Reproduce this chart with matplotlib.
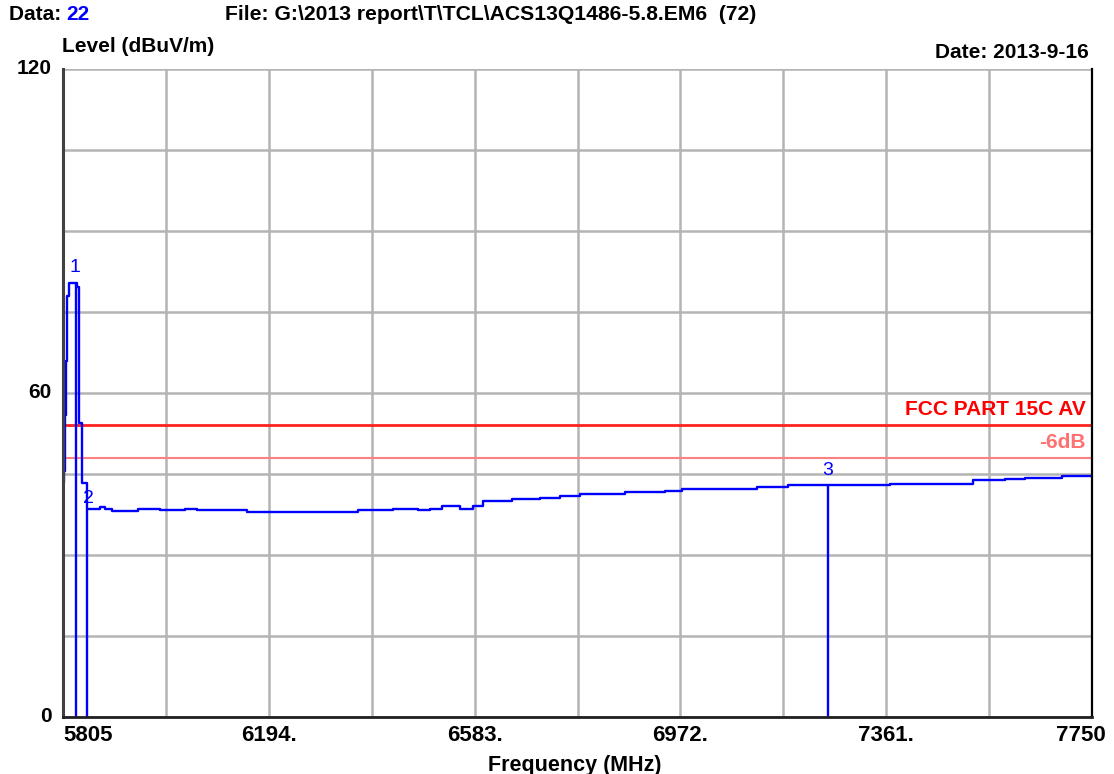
#!/usr/bin/env python3

import numpy as np
import matplotlib
matplotlib.use('Agg')
import matplotlib.pyplot as plt
from matplotlib.transforms import blended_transform_factory

plt.rcParams['font.family'] = ['Liberation Sans', 'DejaVu Sans']
plt.rcParams['font.weight'] = 'bold'

# sweep trace (MHz, dBuV/m), stepwise
trace_freq = [5805, 5807, 5809, 5811, 5813, 5816, 5822, 5831, 5835, 5836, 5841, 5847,
              5850, 5875, 5884, 5898, 5947, 5970, 5988, 6036, 6058, 6153, 6363,
              6429, 6476, 6499, 6521, 6555, 6580, 6599, 6654, 6707, 6744, 6782,
              6867, 6943, 6975, 7117, 7175, 7368, 7525, 7585, 7623, 7693, 7750]
trace_level = [43.5, 45.5, 56.0, 66.0, 78.0, 80.4, 80.4, 79.6, 54.4, 54.4, 43.3, 43.3,
               38.5, 38.9, 38.6, 38.1, 38.5, 38.6, 38.3, 38.6, 38.3, 37.9, 38.3,
               38.6, 38.3, 38.6, 39.1, 38.6, 39.1, 40.0, 40.4, 40.5, 40.9, 41.3,
               41.6, 41.9, 42.3, 42.6, 42.9, 43.2, 43.8, 44.1, 44.3, 44.6, 44.6]

# markers
marker_id = ['1', '2', '3']
marker_freq = [5830, 5850, 7251]
marker_level = [80.4, 38.5, 42.8]

# limit lines
limit_level = 54
margin_level = 48

x_min, x_max = 5805, 7750
y_min, y_max = 0, 120
x_labels = ['5805', '6194.', '6583.', '6972.', '7361.', '7750']
y_labels = [0, 60, 120]

fig = plt.figure(figsize=(11.14, 7.74), dpi=100)
ax = fig.add_axes([63 / 1114, 1 - 717 / 774, (1092 - 63) / 1114, (717 - 69) / 774])

ax.set_xlim(x_min, x_max)
ax.set_ylim(y_min, y_max)
ax.set_xticks(np.linspace(x_min, x_max, 11))
ax.set_yticks(np.arange(0, 121, 15))
ax.set_xticklabels([])
ax.set_yticklabels([])
ax.tick_params(length=0)
ax.grid(True, color='#b4b4b4', linewidth=1.8)
ax.set_axisbelow(True)

ax.spines['top'].set_visible(False)
ax.spines['left'].set_color('#404040')
ax.spines['left'].set_linewidth(2.2)
ax.spines['bottom'].set_color('#202020')
ax.spines['bottom'].set_linewidth(2.0)
ax.spines['right'].set_color('black')
ax.spines['right'].set_linewidth(1.6)

# limit lines
ax.axhline(limit_level, color='#ff2020', linewidth=2.0)
ax.axhline(margin_level, color='#ff8080', linewidth=1.5)
ax.text(7738, limit_level + 1.1, 'FCC PART 15C AV', color='#ff0000',
        fontsize=15, ha='right', va='bottom')
ax.text(7738, margin_level + 1.1, '-6dB', color='#ff7070',
        fontsize=15, ha='right', va='bottom')

# trace
ax.step(trace_freq, trace_level, where='post', color='#0000ff', linewidth=1.7)

# markers
label_off = [(-3, 1.3), (3, 0.3), (0, 1.3)]
for mid, f, lv, off in zip(marker_id, marker_freq, marker_level, label_off):
    ax.vlines(f, 0, lv, color='#0000ff', linewidth=1.7)
    ax.text(f + off[0], lv + off[1], mid, color='#0000ff', fontsize=14,
            fontweight='normal', ha='center', va='bottom')

# tick labels
trans = blended_transform_factory(ax.transData, ax.transAxes)
for i, lab in enumerate(x_labels):
    f = x_min + i * (x_max - x_min) / 5
    if i == 0:
        ax.text(f, -0.012, lab, transform=trans, ha='left', va='top', fontsize=16)
    elif i == len(x_labels) - 1:
        ax.text(1.0136, -0.012, lab, transform=ax.transAxes, ha='right',
                va='top', fontsize=16)
    else:
        ax.text(f, -0.012, lab, transform=trans, ha='center', va='top', fontsize=16)
for v in y_labels:
    ax.text(-0.011, v / 120, str(v), transform=ax.transAxes, ha='right',
            va='center', fontsize=15)

ax.text(0.497, -0.058, 'Frequency (MHz)', transform=ax.transAxes, ha='center',
        va='top', fontsize=15.5)

# header
fig.text(9 / 1114, 1 - 15 / 774, 'Data: ', fontsize=15, va='center')
fig.text(66 / 1114, 1 - 15 / 774, '22', fontsize=15, va='center', color='#0000ff')
fig.text(225 / 1114, 1 - 15 / 774,
         'File: G:\\2013 report\\T\\TCL\\ACS13Q1486-5.8.EM6  (72)',
         fontsize=15.2, va='center')
fig.text(62 / 1114, 1 - 47 / 774, 'Level (dBuV/m)', fontsize=15, va='center')
fig.text(1089 / 1114, 1 - 52 / 774, 'Date: 2013-9-16', fontsize=15,
         va='center', ha='right')

fig.savefig('out.png', dpi=100)
